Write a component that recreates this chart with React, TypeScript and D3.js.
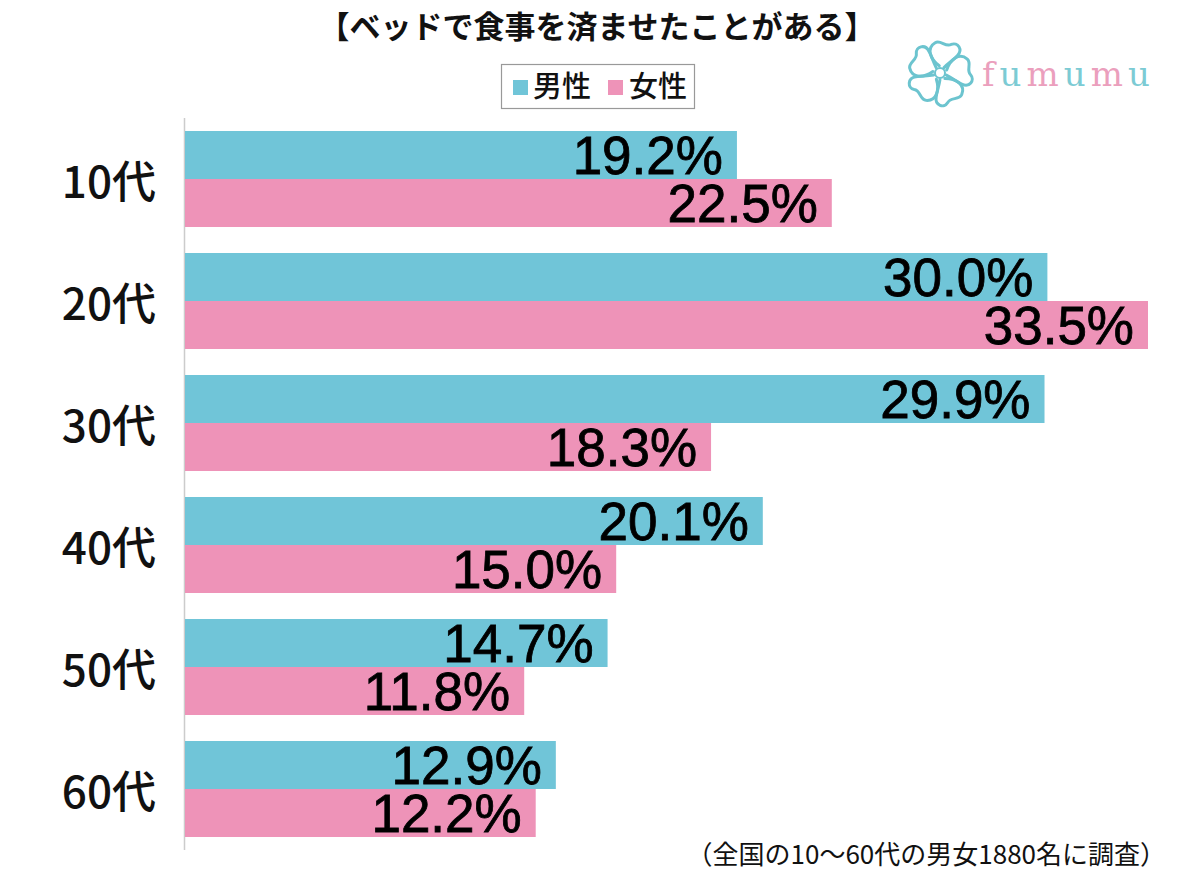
import React from "react";
import * as d3 from "d3";

const categories = ["10代", "20代", "30代", "40代", "50代", "60代"];
const maleValues = [19.2, 30.0, 29.9, 20.1, 14.7, 12.9];
const femaleValues = [22.5, 33.5, 18.3, 15.0, 11.8, 12.2];
const seriesNames = ["男性", "女性"];
const title = "【ベッドで食事を済ませたことがある】";
const footnote = "（全国の10～60代の男女1880名に調査）";
const logoLetters = ["f", "u", "m", "u", "m", "u"];

const BLUE = "#70C5D8";
const PINK = "#EE93B8";
const JP = "'Noto Sans CJK JP', 'Noto Sans', sans-serif";
const NUM = "'Liberation Sans', Arial, sans-serif";

export default function App() {
  const W = 1200, H = 870;
  const x = d3.scaleLinear().domain([0, 33.5]).range([185, 1148]);
  const pi = 26 / 122;
  const y = d3.scaleBand<string>().domain(categories).range([118, 850]).paddingInner(pi).paddingOuter(pi / 2);
  const bh = y.bandwidth() / 2;
  const series = [maleValues, femaleValues];
  const colors = [BLUE, PINK];

  const petal = "M -2,-7 C -12,-12 -18,-22 -10,-29 C -5,-33 1,-26 6,-30 C 12,-34 19,-27 14,-20 C 11,-15 7,-12 3,-6";

  return (
    <svg width={W} height={H} style={{ position: "absolute", left: 0, top: 0, background: "#fff" }}>
      <rect width={W} height={H} fill="#fff" />
      <text x={597} y={38} textAnchor="middle" fontFamily={JP} fontWeight={700} fontSize={31} fill="#111">{title}</text>

      {/* legend */}
      <rect x={501.5} y={64.5} width={193} height={44} fill="#fff" stroke="#999" strokeWidth={1.2} />
      <rect x={513} y={80} width={15} height={15} fill={BLUE} />
      <text x={533} y={97} fontFamily={JP} fontWeight={500} fontSize={29} fill="#111">{seriesNames[0]}</text>
      <rect x={608} y={80} width={15} height={15} fill={PINK} />
      <text x={629} y={97} fontFamily={JP} fontWeight={500} fontSize={29} fill="#111">{seriesNames[1]}</text>

      {/* logo */}
      <g transform="translate(940,73)" fill="none" stroke="#6cc4cf" strokeWidth={3} strokeLinecap="round">
        {d3.range(5).map((i) => (
          <path key={i} d={petal} transform={`rotate(${i * 72 + 10})`} />
        ))}
        <circle r={5} strokeWidth={2} />
      </g>
      <text x={982} y={86} fontFamily="'DejaVu Serif', 'Liberation Serif', serif" fontSize={34} letterSpacing={5}>
        {logoLetters.map((l, i) => (
          <tspan key={i} fill={i % 2 === 0 ? "#eb9fbd" : "#7ccbd4"}>{l}</tspan>
        ))}
      </text>

      {/* axis line */}
      <line x1={184.5} x2={184.5} y1={118} y2={850} stroke="#ccc" strokeWidth={1.5} />

      {categories.map((c, ci) => (
        <g key={c}>
          {series.map((vals, si) => {
            const top = (y(c) as number) + si * bh;
            return (
              <g key={si}>
                <rect x={x(0)} y={top} width={x(vals[ci]) - x(0)} height={bh} fill={colors[si]} />
                <text x={x(vals[ci]) - 14} y={top + bh - 5} textAnchor="end" fontFamily={NUM} fontSize={53} fill="#000" stroke="#000" strokeWidth={0.8}>
                  {vals[ci].toFixed(1)}%
                </text>
              </g>
            );
          })}
          <text x={156} y={(y(c) as number) + bh} dominantBaseline="central" textAnchor="end" fontFamily={JP} fontWeight={500} fontSize={44} fill="#111">{c}</text>
        </g>
      ))}

      <text x={1166} y={864} textAnchor="end" fontFamily={JP} fontSize={26} fill="#111">{footnote}</text>
    </svg>
  );
}
